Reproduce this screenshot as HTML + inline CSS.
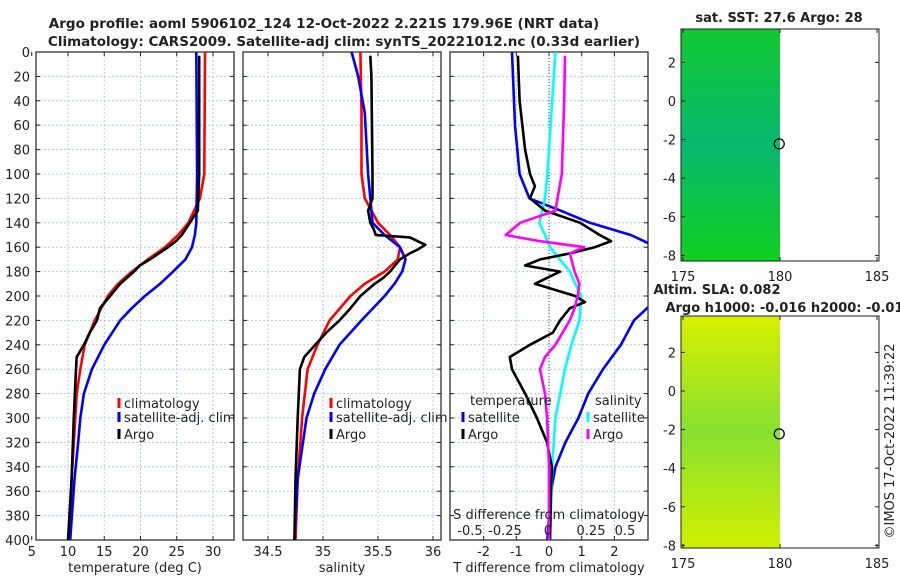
<!DOCTYPE html>
<html><head><meta charset="utf-8"><style>
body{margin:0;background:#fff;}
svg{display:block;font-family:"DejaVu Sans","Liberation Sans",sans-serif;}
</style></head><body>
<svg id="c" width="900" height="580" xmlns="http://www.w3.org/2000/svg"></svg>
<script>
// ---- data ----
const depthTicks=[0,20,40,60,80,100,120,140,160,180,200,220,240,260,280,300,320,340,360,380,400];
const tempTicks=[5,10,15,20,25,30];
const salTicks=[34.5,35,35.5,36];
const tdiffTicks=[-2,-1,0,1,2];
const sdiffTicks=[-0.5,-0.25,0,0.25,0.5];
const lonTicks=[175,180,185];
const latTicks=[2,0,-2,-4,-6,-8];

const climTD=[0,100,120,140,150,160,170,180,190,200,220,240,260,280,300,350,400];
const climT=[28.9,28.8,28.2,26.6,25.2,23.4,21.0,18.8,16.9,15.5,13.7,12.3,11.7,11.2,11.0,10.5,10.2];
const satTD=[0,100,140,150,160,170,180,190,200,210,220,240,260,280,300,320,350,400];
const satT=[27.7,27.8,27.7,27.5,27.1,26.2,24.5,22.7,20.6,18.8,17.2,15.0,13.3,12.2,11.7,11.4,10.9,10.3];
const argoTD=[3,100,130,140,150,155,160,170,175,180,190,200,210,220,230,240,250,260,300,350,400];
const argoT=[28.1,28.1,27.9,26.8,25.7,24.9,23.8,21.3,19.9,19.1,17.2,15.8,14.4,14.0,13.0,12.2,11.2,11.1,10.8,10.5,10.0];

const climSD=[0,50,100,120,140,150,160,170,180,190,200,220,240,260,300,350,400];
const climS=[35.34,35.35,35.35,35.38,35.5,35.61,35.7,35.68,35.56,35.38,35.25,35.06,34.95,34.86,34.81,34.77,34.75];
const satSD=[0,20,50,100,140,150,160,170,180,190,200,220,240,260,280,300,350,400];
const satS=[35.26,35.32,35.38,35.41,35.45,35.56,35.7,35.75,35.72,35.65,35.56,35.35,35.15,35.02,34.92,34.85,34.77,34.74];
const argoSD=[3,20,100,120,130,140,145,150,152,158,162,165,170,180,185,190,200,210,220,230,240,250,260,300,350,400];
const argoS=[35.43,35.44,35.45,35.45,35.41,35.43,35.46,35.48,35.79,35.93,35.86,35.79,35.7,35.61,35.55,35.47,35.34,35.25,35.15,35.03,34.93,34.83,34.79,34.77,34.75,34.74];

const satTdD=[0,20,60,100,120,130,140,150,160,170,190,210,220,240,260,280,300,320,340,360,400];
const satTd=[-1.13,-1.1,-1.04,-0.9,-0.6,0.35,1.25,2.5,3.3,4,4,3.0,2.6,2.2,1.65,1.2,0.9,0.5,0.2,0.06,-0.05];
const argoTdD=[3,40,80,100,110,120,130,140,150,155,160,165,170,175,180,190,200,205,210,220,230,240,250,260,280,300,320,340,360,400];
const argoTd=[-0.95,-0.9,-0.73,-0.58,-0.43,-0.58,-0.12,0.95,1.55,1.9,1.4,0.65,-0.27,-0.73,0.34,-0.43,0.8,1.1,0.64,0.34,0.12,-0.58,-1.2,-1.13,-0.73,-0.37,-0.06,0.09,0.06,0.03];
const satSdD=[0,40,100,120,140,150,160,180,200,220,240,260,280,300,340,400];
const satSd=[0.04,0.02,-0.01,-0.025,-0.06,-0.025,0.006,0.13,0.2,0.19,0.14,0.1,0.07,0.04,0.02,0.006];
const argoSdD=[3,40,100,130,140,150,155,160,165,180,190,200,210,220,240,250,260,280,300,340,400];
const argoSd=[0.1,0.095,0.08,0.04,-0.18,-0.27,-0.06,0.22,0.13,0.16,0.19,0.18,0.16,0.13,0.04,-0.025,-0.056,-0.025,-0.012,0,0];

// ---- helpers ----
const S=document.getElementById('c');const NS='http://www.w3.org/2000/svg';
function el(t,a,p){const e=document.createElementNS(NS,t);for(const k in a)e.setAttribute(k,a[k]);(p||S).appendChild(e);return e;}
function txt(x,y,s,a,p){const e=el('text',Object.assign({x:x,y:y,'font-size':13,fill:'#222'},a||{}),p);e.textContent=s;return e;}
const Y0=52,Y1=540;
const yD=d=>Y0+d*(Y1-Y0)/400;

function panel(name,x0,x1,xs,xticks,fmt,label){
  const g=el('g',{});
  
  
  el('defs',{},g);
  const cp=el('clipPath',{id:'cp'+name},g);el('rect',{x:x0,y:Y0,width:x1-x0,height:Y1-Y0},cp);
  depthTicks.forEach(d=>{if(d>0&&d<400)el('line',{x1:x0,x2:x1,y1:yD(d),y2:yD(d),stroke:'#b8c4e8','stroke-dasharray':'2,2','stroke-width':1},g);});
  xticks.forEach(v=>{const x=xs(v);if(x>x0&&x<x1)el('line',{x1:x,x2:x,y1:Y0,y2:Y1,stroke:'#b8c4e8','stroke-dasharray':'2,2','stroke-width':1},g);
    el('line',{x1:x,x2:x,y1:Y1,y2:Y1-4,stroke:'#222'},g);el('line',{x1:x,x2:x,y1:Y0,y2:Y0+4,stroke:'#222'},g);
    const t=txt(x,556,fmt(v),{'text-anchor':'middle'},g);});
  depthTicks.forEach(d=>{el('line',{x1:x0,x2:x0+4,y1:yD(d),y2:yD(d),stroke:'#222'},g);el('line',{x1:x1,x2:x1-4,y1:yD(d),y2:yD(d),stroke:'#222'},g);});
  el('rect',{x:x0,y:Y0,width:x1-x0,height:Y1-Y0,fill:'none',stroke:'#222','stroke-width':1.2},g);
  if(label){const t=txt((x0+x1)/2,572,label,{'text-anchor':'middle'},g);}
  return g;
}
function line(g,name,xs,D,V,col,clip){
  const pts=D.map((d,i)=>xs(V[i]).toFixed(1)+','+yD(d).toFixed(1)).join(' ');
  const p=el('polyline',{points:pts,fill:'none',stroke:col,'stroke-width':2.6,'stroke-linejoin':'round','clip-path':'url(#cp'+clip+')'},g);
  
  
}
function legItem(g,x,y,col,label){
  el('line',{x1:x,x2:x,y1:y-10,y2:y,stroke:col,'stroke-width':3},g);
  txt(x+5,y,label,{},g);
}

// titles
let t=txt(324,28,'Argo profile: aoml 5906102_124 12-Oct-2022 2.221S 179.96E (NRT data)',{'text-anchor':'middle','font-weight':'bold','font-size':13.5});

t=txt(344,46,'Climatology: CARS2009. Satellite-adj clim: synTS_20221012.nc (0.33d earlier)',{'text-anchor':'middle','font-weight':'bold','font-size':13.5});


// depth labels
depthTicks.forEach(d=>{const e=txt(30,yD(d)+5,String(d),{'text-anchor':'end'});});

// panel 1 temperature
const xT=v=>31.75+(v-5)*7.25;
const g1=panel('temperature-panel',36,234,xT,tempTicks,String,'temperature (deg C)');
line(g1,'climatology-temp-line',xT,climTD,climT,'#f00','temperature-panel');
line(g1,'satellite-temp-line',xT,satTD,satT,'#00f','temperature-panel');
line(g1,'argo-temp-line',xT,argoTD,argoT,'#000','temperature-panel');
const lg1=el('g',{},g1);
legItem(lg1,119,408,'#f00','climatology');legItem(lg1,119,422,'#00f','satellite-adj. clim');legItem(lg1,119,439,'#000','Argo');

// panel 2 salinity
const xS=v=>268+(v-34.5)*110;
const g2=panel('salinity-panel',243,441,xS,salTicks,String,'salinity');
line(g2,'climatology-sal-line',xS,climSD,climS,'#f00','salinity-panel');
line(g2,'satellite-sal-line',xS,satSD,satS,'#00f','salinity-panel');
line(g2,'argo-sal-line',xS,argoSD,argoS,'#000','salinity-panel');
const lg2=el('g',{},g2);
legItem(lg2,331,408,'#f00','climatology');legItem(lg2,331,422,'#00f','satellite-adj. clim');legItem(lg2,331,439,'#000','Argo');

// panel 3 differences
const xTd=v=>549+v*32.7, xSd=v=>549+v*160;
const g3=panel('difference-panel',450,648,xTd,tdiffTicks,String,'T difference from climatology');
el('line',{x1:549,x2:549,y1:Y0,y2:Y1,stroke:'#444','stroke-dasharray':'1,2'},g3);
line(g3,'satellite-tdiff-line',xTd,satTdD,satTd,'#00f','difference-panel');
line(g3,'satellite-sdiff-line',xSd,satSdD,satSd,'#0ff','difference-panel');
line(g3,'argo-tdiff-line',xTd,argoTdD,argoTd,'#000','difference-panel');
line(g3,'argo-sdiff-line',xSd,argoSdD,argoSd,'#f0f','difference-panel');
t=txt(549,519,'S difference from climatology',{'text-anchor':'middle'},g3);
const sdPos=[-0.5,-0.25,0,0.25,0.5];const sdLab=['-0.5','-0.25','0','0.25','0.5'];
const sdX=[470,505,548,591,625];
sdPos.forEach((v,i)=>{const e=txt(sdX[i],535,sdLab[i],{'text-anchor':'middle'},g3);});
const lg3=el('g',{},g3);
txt(470,405,'temperature',{},lg3);txt(595,405,'salinity',{},lg3);
legItem(lg3,463,422,'#00f','satellite');legItem(lg3,463,439,'#000','Argo');
legItem(lg3,588,422,'#0ff','satellite');legItem(lg3,588,439,'#f0f','Argo');

// maps
const xL=v=>683+(v-175)*19.4;
function map(name,top,latAt0,title1,title2,c1,c2,c3){
  const g=el('g',{});
  const yL=v=>latAt0-v*19.3;
  const gid='gr'+name;const lgd=el('linearGradient',{id:gid,x1:0,y1:0,x2:0,y2:1},g);
  el('stop',{offset:0,'stop-color':c1},lgd);el('stop',{offset:0.5,'stop-color':c2},lgd);el('stop',{offset:1,'stop-color':c3},lgd);
  el('rect',{x:681,y:top,width:xL(180)-681,height:232,fill:'url(#'+gid+')'},g);
  el('rect',{x:681,y:top,width:198,height:232,fill:'none',stroke:'#222'},g);
  lonTicks.forEach(v=>{el('line',{x1:xL(v),x2:xL(v),y1:top+232,y2:top+228,stroke:'#222'},g);el('line',{x1:xL(v),x2:xL(v),y1:top,y2:top+4,stroke:'#222'},g);
    const e=txt(xL(v),top+252,String(v),{'text-anchor':'middle'},g);});
  latTicks.forEach(v=>{el('line',{x1:681,x2:685,y1:yL(v),y2:yL(v),stroke:'#222'},g);el('line',{x1:879,x2:875,y1:yL(v),y2:yL(v),stroke:'#222'},g);
    const e=txt(676,yL(v)+5,String(v),{'text-anchor':'end'},g);});
  const c=el('circle',{cx:xL(179.96),cy:yL(-2.221),r:5,fill:'none',stroke:'#000','stroke-width':1.3},g);
  
  title1.forEach(([s,x,y])=>{const e=txt(x,y,s,{'text-anchor':'middle','font-weight':'bold'},g);});
}
map('sst-map',29,101,[['sat. SST: 27.6 Argo: 28',779,22]],null,'#10c830','#08b870','#10d020');
map('sla-map',316,391,[['Altim. SLA: 0.082',717,294],['Argo h1000: -0.016 h2000: -0.019',789,312]],null,'#d8f000','#88e030','#d0f000');

t=txt(0,0,'©IMOS 17-Oct-2022 11:39:22',{'text-anchor':'middle','transform':'translate(894,441) rotate(-90)'});

</script>
</body></html>
